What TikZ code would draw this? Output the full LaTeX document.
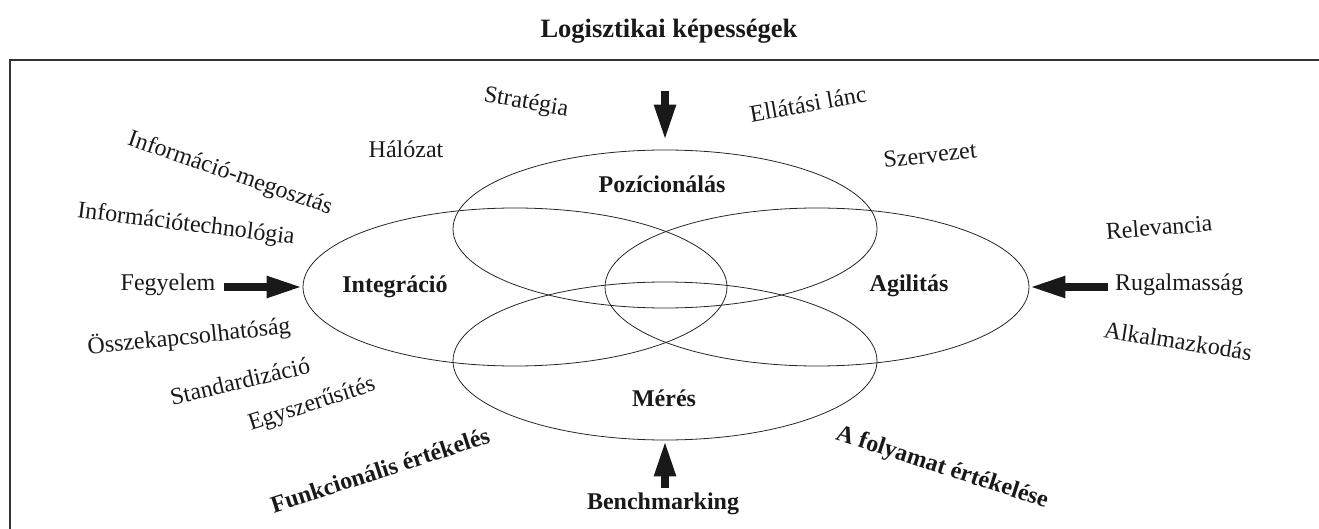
\documentclass[tikz,border=0pt]{standalone}
\usepackage{fontspec}
\setmainfont{Liberation Serif}
\usetikzlibrary{shapes.geometric,arrows.meta}
\begin{document}
\begin{tikzpicture}[x=1pt,y=-1pt,
  lbl/.style={font=\fontsize{24}{28}\selectfont, inner sep=0pt, text=black!90},
  blbl/.style={font=\fontsize{24}{28}\selectfont\bfseries, inner sep=0pt, text=black!90},
  circ/.style={ellipse, draw=black!85, line width=0.8pt, minimum width=424pt, minimum height=158pt, inner sep=0pt},
  bigarrow/.style={line width=8pt, -{Triangle[length=36pt,width=20pt]}, draw=black!90}]
\useasboundingbox (0,0) rectangle (1319,529);
\clip (0,0) rectangle (1319,529);
% frame
\draw[line width=1.6pt, black!80] (10,545) -- (10,60) -- (1335,60);
% title
\node[font=\fontsize{26.5}{30}\selectfont\bfseries, inner sep=0pt, text=black!90] (title) at (669,31) {Logisztikai képességek};
% ellipses
\node[circ] (pos) at (665,229) {};
\node[circ] (integ) at (515,287) {};
\node[circ] (agil) at (817,287) {};
\node[circ] (meres) at (665,361) {};
% ellipse labels
\node[blbl] (posl) at (662,184) {Pozícionálás};
\node[blbl] (integl) at (395,287) {Integráció};
\node[blbl] (agill) at (909,286) {Agilitás};
\node[blbl] (meresl) at (664,398) {Mérés};
% surrounding labels
\node[lbl] (halo) at (406,149) {Hálózat};
\node[lbl, rotate=-10] (strat) at (526,103) {Stratégia};
\node[lbl, rotate=10] (ellat) at (808,104) {Ellátási lánc};
\node[lbl, rotate=6] (szerv) at (930,155) {Szervezet};
\node[lbl, rotate=-19] (infomeg) at (230,174) {Információ-megosztás};
\node[lbl, rotate=-7] (infotech) at (186,225) {Információtechnológia};
\node[lbl] (fegy) at (168,285) {Fegyelem};
\node[lbl, rotate=6] (ossze) at (189,337) {Összekapcsolhatóság};
\node[lbl, rotate=13] (stand) at (240,381) {Standardizáció};
\node[lbl, rotate=18] (egysz) at (312,405) {Egyszerűsítés};
\node[blbl, rotate=18] (funk) at (380,470) {Funkcionális értékelés};
\node[blbl, rotate=-18] (folyam) at (942,468) {A folyamat értékelése};
\node[lbl, rotate=4.5] (relev) at (1159,227) {Relevancia};
\node[lbl] (rugal) at (1179,285) {Rugalmasság};
\node[lbl, rotate=-9] (alkal) at (1178,341) {Alkalmazkodás};
\node[blbl] (bench) at (663,504) {Benchmarking};
% arrows
\coordinate (topstart) at (665,91);
\draw[bigarrow, shorten >=9pt] (topstart) -- (pos.north);
\draw[bigarrow, shorten <=8pt] (fegy.east |- integ.west) -- (integ.west);
\draw[bigarrow, shorten <=7pt] (rugal.west |- agil.east) -- (agil.east);
\draw[bigarrow, shorten <=5pt] (bench.north -| meres.south) -- (meres.south);
\end{tikzpicture}
\end{document}
